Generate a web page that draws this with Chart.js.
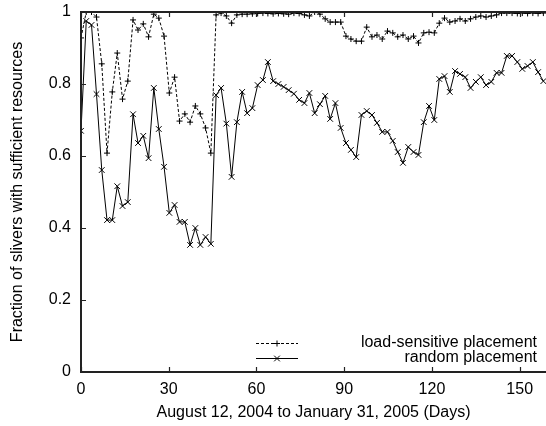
<!DOCTYPE html>
<html>
<head>
<meta charset="utf-8">
<script src="https://cdn.jsdelivr.net/npm/chart.js@4/dist/chart.umd.min.js"></script>
<style>
  html, body { margin: 0; padding: 0; background: #fff; }
  #wrap { width: 546px; height: 426px; }
</style>
</head>
<body>
<div id="wrap"><canvas id="c" width="546" height="426"></canvas></div>
<script>
// Sample days (x positions)
const days = [0, 1.8, 3.6, 5.3, 7.1, 8.9, 10.7, 12.4, 14.2, 16.0,
  17.8, 19.5, 21.3, 23.1, 24.9, 26.6, 28.4, 30.2, 32.0, 33.7,
  35.5, 37.3, 39.1, 40.8, 42.6, 44.4, 46.2, 47.9, 49.7, 51.5,
  53.3, 55.1, 56.8, 58.6, 60.4, 62.2, 63.9, 65.7, 67.5, 69.3,
  71.0, 72.8, 74.6, 76.4, 78.1, 79.9, 81.7, 83.5, 85.2, 87.0,
  88.8, 90.6, 92.3, 94.1, 95.9, 97.7, 99.5, 101.2, 103.0, 104.8,
  106.6, 108.3, 110.1, 111.9, 113.7, 115.4, 117.2, 119.0, 120.8, 122.5,
  124.3, 126.1, 127.9, 129.6, 131.4, 133.2, 135.0, 136.7, 138.5, 140.3,
  142.1, 143.8, 145.6, 147.4, 149.2, 150.9, 152.7, 154.5, 156.3, 158.1];

const loadSensitive = [0.928, 1.0, 1.0, 0.986, 0.856, 0.608, 0.778, 0.886, 0.758, 0.808,
  0.978, 0.95, 0.967, 0.931, 0.994, 0.983, 0.933, 0.775, 0.819, 0.697,
  0.717, 0.694, 0.739, 0.717, 0.678, 0.608, 0.992, 0.997, 0.989, 0.969,
  0.992, 0.994, 0.994, 0.995, 0.996, 0.997, 0.996, 0.995, 0.996, 0.995,
  0.994, 0.997, 0.996, 0.992, 0.989, 1.0, 0.994, 0.981, 0.972, 0.972,
  0.972, 0.933, 0.925, 0.919, 0.919, 0.958, 0.931, 0.936, 0.925, 0.947,
  0.942, 0.931, 0.936, 0.925, 0.933, 0.914, 0.942, 0.944, 0.942, 0.969,
  0.983, 0.972, 0.975, 0.981, 0.975, 0.981, 0.986, 0.989, 0.986, 0.989,
  0.992, 0.997, 0.997, 0.997, 0.996, 0.997, 0.996, 0.997, 0.996, 0.997];

const randomPlacement = [0.67, 0.975, 0.964, 0.772, 0.561, 0.422, 0.422, 0.516, 0.461, 0.472,
  0.716, 0.636, 0.656, 0.594, 0.789, 0.675, 0.57, 0.442, 0.464, 0.417,
  0.417, 0.353, 0.4, 0.353, 0.375, 0.356, 0.769, 0.789, 0.69, 0.542,
  0.694, 0.778, 0.719, 0.733, 0.797, 0.811, 0.861, 0.808, 0.80, 0.792,
  0.783, 0.773, 0.756, 0.747, 0.775, 0.719, 0.744, 0.767, 0.703, 0.747,
  0.678, 0.636, 0.617, 0.597, 0.714, 0.725, 0.714, 0.692, 0.667, 0.667,
  0.642, 0.611, 0.581, 0.625, 0.611, 0.603, 0.694, 0.739, 0.70, 0.814,
  0.822, 0.778, 0.836, 0.828, 0.819, 0.789, 0.806, 0.819, 0.797, 0.806,
  0.831, 0.831, 0.878, 0.878, 0.861, 0.842, 0.85, 0.861, 0.833, 0.808];

const xTicks = [0, 30, 60, 90, 120, 150];
const yTicks = [0, 0.2, 0.4, 0.6, 0.8, 1];
const yTickLabels = ['0', '0.2', '0.4', '0.6', '0.8', '1'];
const seriesNames = ['load-sensitive placement', 'random placement'];
const xTitle = 'August 12, 2004 to January 31, 2005 (Days)';
const yTitle = 'Fraction of slivers with sufficient resources';

const FONT = '"Liberation Sans", Arial, Helvetica, sans-serif';
const FS = 16;
const INK = '#000';
const AXIS = '#222';

const toPts = (vals) => vals.map((v, i) => ({ x: days[i], y: v }));

const frame = {
  id: 'frame',
  afterDatasetsDraw(chart) {
    const { ctx, chartArea: a, scales: { x, y } } = chart;
    ctx.save();
    ctx.strokeStyle = AXIS;
    ctx.lineWidth = 2;
    // box (right side falls at the canvas edge)
    ctx.beginPath();
    ctx.moveTo(a.right + 2, a.bottom); ctx.lineTo(a.left, a.bottom);
    ctx.lineTo(a.left, a.top); ctx.lineTo(a.right + 2, a.top);
    ctx.stroke();
    // inward ticks
    ctx.lineWidth = 1.2;
    ctx.beginPath();
    xTicks.forEach(v => {
      const px = Math.round(x.getPixelForValue(v)) + 0.5;
      ctx.moveTo(px, a.bottom); ctx.lineTo(px, a.bottom - 5);
      ctx.moveTo(px, a.top); ctx.lineTo(px, a.top + 5);
    });
    yTicks.forEach(v => {
      const py = Math.round(y.getPixelForValue(v)) + 0.5;
      ctx.moveTo(a.left, py); ctx.lineTo(a.left + 5, py);
    });
    ctx.stroke();

    // legend (inside, lower right)
    const rows = [
      { ds: chart.data.datasets[0], y: 343 },
      { ds: chart.data.datasets[1], y: 358 }
    ];
    ctx.font = FS + 'px ' + FONT;
    ctx.fillStyle = INK;
    ctx.textAlign = 'right';
    ctx.textBaseline = 'middle';
    rows.forEach((r, i) => {
      ctx.save();
      ctx.strokeStyle = INK;
      ctx.lineWidth = 1;
      ctx.setLineDash(r.ds.borderDash || []);
      ctx.beginPath();
      ctx.moveTo(256, r.y + 0.5); ctx.lineTo(298, r.y + 0.5);
      ctx.stroke();
      ctx.setLineDash([]);
      Chart.helpers.drawPoint(ctx, {
        pointStyle: r.ds.pointStyle, radius: r.ds.pointRadius, rotation: 0, borderWidth: 1
      }, 277, r.y + 0.5);
      ctx.restore();
      ctx.fillText(seriesNames[i], 537, r.y);
    });
    ctx.restore();
  }
};

new Chart(document.getElementById('c'), {
  type: 'line',
  data: {
    datasets: [
      {
        label: seriesNames[0],
        data: toPts(loadSensitive),
        borderColor: INK, backgroundColor: INK,
        borderWidth: 1, borderDash: [3, 2],
        pointStyle: 'cross', pointRadius: 3, pointBorderWidth: 1,
        pointBorderColor: INK, tension: 0
      },
      {
        label: seriesNames[1],
        data: toPts(randomPlacement),
        borderColor: INK, backgroundColor: INK,
        borderWidth: 1,
        pointStyle: 'crossRot', pointRadius: 4, pointBorderWidth: 1,
        pointBorderColor: INK, tension: 0
      }
    ]
  },
  options: {
    responsive: false,
    animation: false,
    events: [],
    layout: { autoPadding: false, padding: { top: 12, right: 0, left: 0, bottom: 0 } },
    plugins: { legend: { display: false }, tooltip: { enabled: false } },
    scales: {
      x: {
        type: 'linear', min: 0, max: 159,
        afterBuildTicks: (s) => { s.ticks = xTicks.map(v => ({ value: v })); },
        afterFit: (s) => { s.height = 54; s.paddingLeft = 0; s.paddingRight = 0; },
        grid: { display: false, drawTicks: false },
        border: { display: false },
        ticks: { color: INK, font: { family: FONT, size: FS }, padding: 8, maxRotation: 0 },
        title: { display: true, text: xTitle, color: INK, font: { family: FONT, size: FS }, padding: { top: 0, bottom: 4 } }
      },
      y: {
        type: 'linear', min: 0, max: 1,
        afterBuildTicks: (s) => { s.ticks = yTicks.map(v => ({ value: v })); },
        afterFit: (s) => { s.width = 81; s.paddingTop = 0; s.paddingBottom = 0; },
        grid: { display: false, drawTicks: false },
        border: { display: false },
        ticks: {
          color: INK, font: { family: FONT, size: FS }, padding: 10,
          callback: (v) => yTickLabels[yTicks.indexOf(v)]
        },
        title: { display: true, text: yTitle, color: INK, font: { family: FONT, size: FS }, padding: { top: 8, bottom: 0 } }
      }
    }
  },
  plugins: [frame]
});
</script>
</body>
</html>
